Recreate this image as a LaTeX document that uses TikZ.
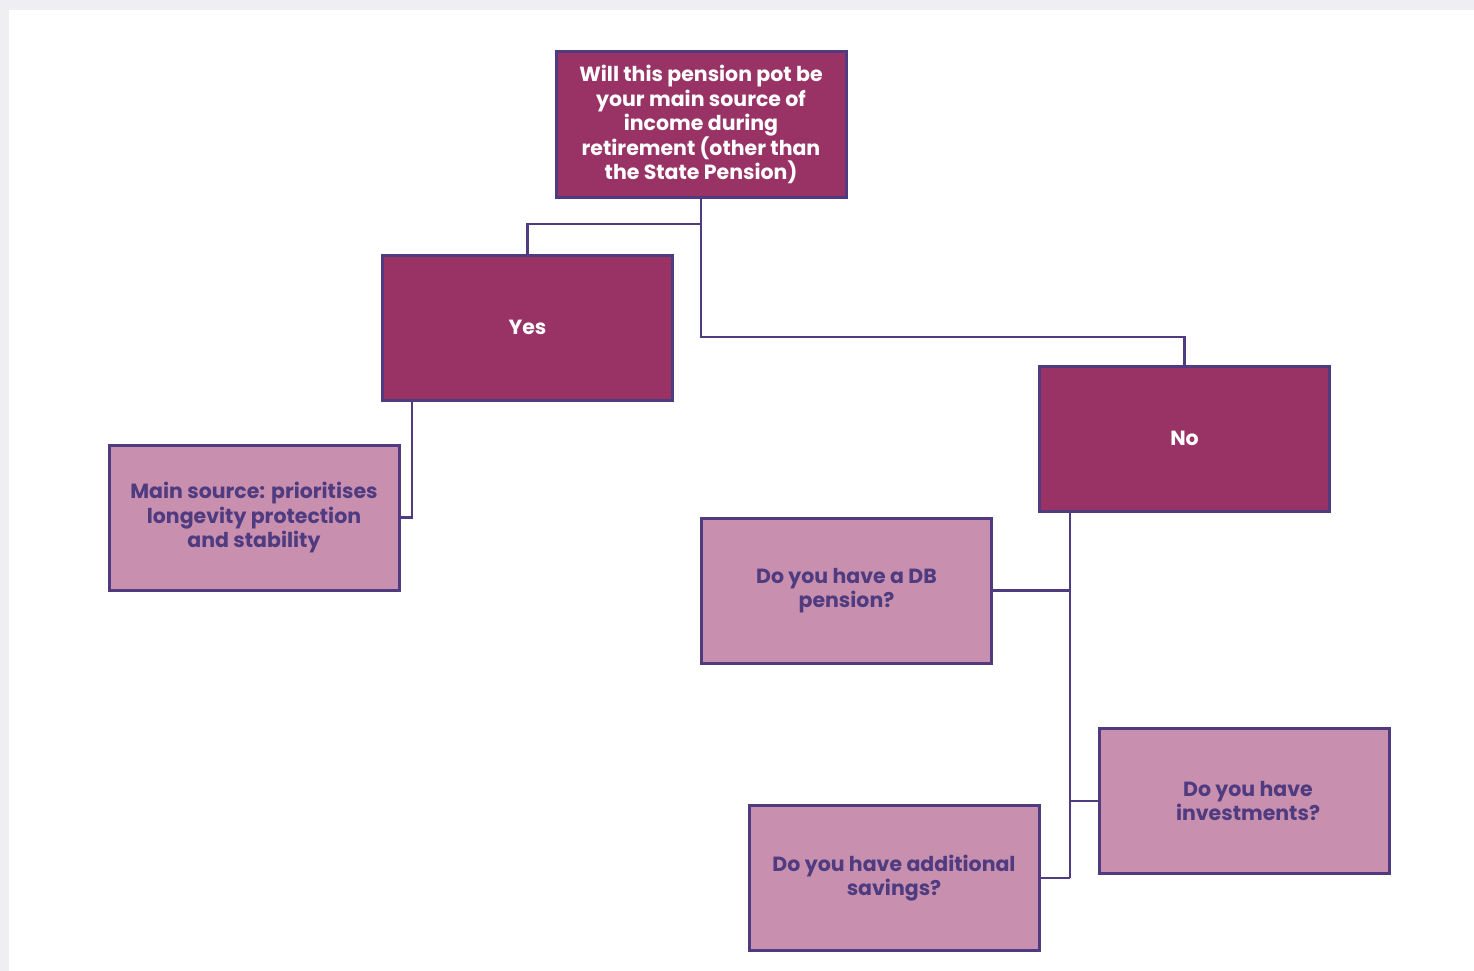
\documentclass[tikz,border=0pt]{standalone}
\usepackage{fontspec}
\setmainfont{Poppins}
\definecolor{darkfill}{HTML}{993366}
\definecolor{lightfill}{HTML}{C98FAE}
\definecolor{edge}{HTML}{4E3B80}
\definecolor{bggray}{HTML}{EFEEF3}
\begin{document}
\begin{tikzpicture}[x=1pt,y=-1pt,
  box/.style={draw=edge,line width=3pt,minimum width=290pt,minimum height=145pt,
    align=center,inner sep=0pt,font=\fontsize{20.5}{24.5}\selectfont\bfseries},
  dark/.style={box,fill=darkfill,text=white},
  light/.style={box,fill=lightfill,text=edge},
  conn/.style={draw=edge,line width=2.8pt}]
\useasboundingbox (0,0) rectangle (1474,971);
\fill[bggray] (0,0) rectangle (1474,10);
\fill[bggray] (0,0) rectangle (9,971);
\node[dark] (q) at (701,124.5) {Will this pension pot be\\your main source of\\income during\\retirement (other than\\the State Pension)};
\node[dark] (yes) at (527.5,327.5) {Yes};
\node[dark] (no) at (1184.5,438.5) {No};
\node[light] (main) at (254,517.5) {Main source: prioritises\\longevity protection\\and stability};
\node[light] (db) at (846.5,590.5) {Do you have a DB\\pension?};
\node[light] (inv) at (1244.5,801) {\hspace*{7pt}Do you have\\\hspace*{7pt}investments?};
\node[light] (sav) at (894,878) {Do you have additional\\savings?};
\coordinate (j1) at (701,224);
\coordinate (n1) at (1070,512);
\draw[conn] (q.south) -- (j1) -| (yes.north);
\draw[conn] (j1) |- (701,337) -| (no.north);
\draw[conn] (412,401) |- (main.east);
\draw[conn] (n1) -- (1070,878);
\draw[conn] (1070,590.5) -- (db.east);
\draw[conn] (1070,801) -- (inv.west);
\draw[conn] (1070,878) -- (sav.east);
\end{tikzpicture}
\end{document}
